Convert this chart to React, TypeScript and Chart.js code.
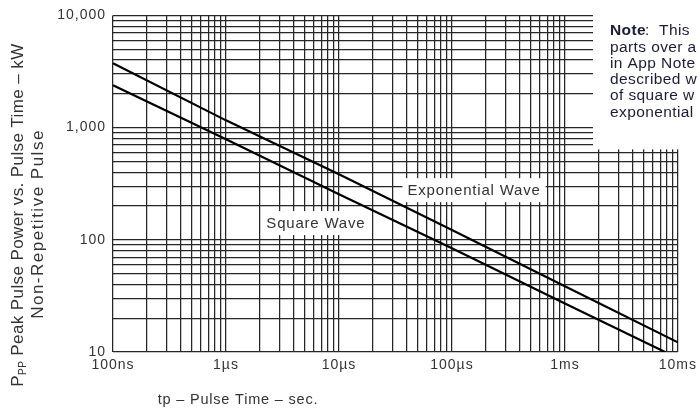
import React, { useEffect, useRef } from 'react';
import { Chart, registerables } from 'chart.js';
Chart.register(...registerables);

// ---- data ----
const pulseTimes = [1e-7, 1e-6, 1e-5, 1e-4, 1e-3, 1e-2];
const exponentialWave = [3740, 1160, 384, 122, 38.6, 12.2];
const squareWaveTimes = [1e-7, 1e-6, 1e-5, 1e-4, 1e-3, 7.7e-3];
const squareWave = [2385, 787, 255, 84, 27, 10];

const xDecades = [1e-7, 1e-6, 1e-5, 1e-4, 1e-3, 1e-2];
const xTickLabels = ['100ns', '1µs', '10µs', '100µs', '1ms', '10ms'];
const yDecades = [10, 100, 1000, 10000];
const yTickLabels = ['10', '100', '1,000', '10,000'];

const noteLines = ['parts over a', 'in App Note', 'described w', 'of square w', 'exponential'];

const FONT = '"Liberation Sans", Arial, sans-serif';
const TEXT = '#333333';

function gridValues(decades: number[]) {
  const out: number[] = [];
  for (let i = 0; i < decades.length; i++) {
    const d = decades[i];
    if (i === decades.length - 1) { out.push(d); break; }
    for (let m = 1; m <= 9; m++) out.push(Number((d * m).toPrecision(3)));
  }
  return out;
}

function labelFor(value: number, decades: number[], labels: string[]) {
  for (let i = 0; i < decades.length; i++) {
    if (Math.abs(value / decades[i] - 1) < 1e-6) return labels[i];
  }
  return '';
}

function spacedWidth(ctx: CanvasRenderingContext2D, text: string, spacing: number) {
  return ctx.measureText(text).width + text.length * spacing;
}

const overlayPlugin = {
  id: 'overlay',
  beforeDraw(chart: any) {
    chart.ctx.letterSpacing = '1px';
  },
  beforeDatasetsDraw(chart: any) {
    const ctx = chart.ctx;
    const xs = chart.scales.x;
    const ys = chart.scales.y;
    ctx.save();
    const sp = 0.8;
    ctx.letterSpacing = '0px';
    ctx.font = `15px ${FONT}`;
    ctx.textBaseline = 'middle';
    const boxes = [
      { text: 'Exponential Wave', x: xs.getPixelForValue(1.57e-4), y: ys.getPixelForValue(277) },
      { text: 'Square Wave', x: xs.getPixelForValue(6.25e-6), y: ys.getPixelForValue(141) },
    ];
    for (const b of boxes) {
      const w = spacedWidth(ctx, b.text, sp);
      ctx.fillStyle = '#ffffff';
      ctx.fillRect(b.x - w / 2 - 5, b.y - 12, w + 10, 24);
      ctx.fillStyle = TEXT;
      ctx.textAlign = 'left';
      ctx.letterSpacing = `${sp}px`;
      ctx.fillText(b.text, b.x - w / 2, b.y + 1);
      ctx.letterSpacing = '0px';
    }
    ctx.restore();
  },
  afterDraw(chart: any) {
    const ctx = chart.ctx;
    const ys = chart.scales.y;
    ctx.save();
    ctx.letterSpacing = '0px';
    // note box
    const boxBottom = ys.getPixelForValue(640);
    ctx.fillStyle = '#ffffff';
    ctx.fillRect(593, 0, 107, boxBottom);
    ctx.fillStyle = '#1c1c38';
    ctx.textBaseline = 'middle';
    ctx.textAlign = 'left';
    ctx.font = `bold 15.5px ${FONT}`;
    const nw = ctx.measureText('Note').width;
    ctx.letterSpacing = '0.4px';
    ctx.fillText('Note', 610, 31);
    ctx.font = `15.5px ${FONT}`;
    ctx.fillText(':  This', 610 + nw + 0.5, 31);
    noteLines.forEach((l, i) => ctx.fillText(l, 610, 47.5 + i * 16.2));

    // x title
    ctx.fillStyle = TEXT;
    ctx.letterSpacing = '0.8px';
    ctx.font = `14.5px ${FONT}`;
    ctx.textAlign = 'center';
    ctx.fillText('tp – Pulse Time – sec.', 238, 400);

    // y title (rotated)
    ctx.translate(18, 215);
    ctx.rotate(-Math.PI / 2);
    const sp = 0.4;
    ctx.letterSpacing = '0px';
    ctx.font = `17px ${FONT}`;
    const main = ' Peak Pulse Power vs. Pulse Time – kW';
    const pW = spacedWidth(ctx, 'P', sp);
    ctx.font = `10px ${FONT}`;
    const subW = spacedWidth(ctx, 'PP', sp);
    ctx.font = `17px ${FONT}`;
    const mW = spacedWidth(ctx, main, sp);
    const total = pW + subW + mW;
    const x0 = -total / 2;
    ctx.letterSpacing = `${sp}px`;
    ctx.textAlign = 'left';
    ctx.textBaseline = 'middle';
    ctx.fillText('P', x0, 0);
    ctx.font = `10px ${FONT}`;
    ctx.fillText('PP', x0 + pW, 5);
    ctx.font = `17px ${FONT}`;
    ctx.fillText(main, x0 + pW + subW, 0);
    ctx.restore();

    ctx.save();
    ctx.translate(38, 224);
    ctx.rotate(-Math.PI / 2);
    ctx.fillStyle = TEXT;
    const sp2 = 1.5;
    ctx.letterSpacing = '0px';
    ctx.font = `17px ${FONT}`;
    const w2 = spacedWidth(ctx, 'Non-Repetitive Pulse', sp2);
    ctx.letterSpacing = `${sp2}px`;
    ctx.textAlign = 'left';
    ctx.textBaseline = 'middle';
    ctx.fillText('Non-Repetitive Pulse', -w2 / 2, 0);
    ctx.restore();
    chart.ctx.letterSpacing = '0px';
  },
};

export default function App() {
  const ref = useRef<HTMLCanvasElement | null>(null);
  useEffect(() => {
    document.body.style.margin = '0';
    if (!ref.current) return;
    const xGrid = gridValues(xDecades);
    const yGrid = gridValues(yDecades);
    const chart = new Chart(ref.current, {
      type: 'line',
      data: {
        datasets: [
          {
            label: 'Exponential Wave',
            data: pulseTimes.map((t, i) => ({ x: t, y: exponentialWave[i] })),
            borderColor: '#000000',
            borderWidth: 2.2,
            pointRadius: 0,
            tension: 0,
          },
          {
            label: 'Square Wave',
            data: squareWaveTimes.map((t, i) => ({ x: t, y: squareWave[i] })),
            borderColor: '#000000',
            borderWidth: 2.2,
            pointRadius: 0,
            tension: 0,
          },
        ],
      },
      options: {
        animation: false,
        responsive: false,
        devicePixelRatio: 1,
        layout: { padding: { top: 15, right: 22, left: 0, bottom: 0 } },
        plugins: { legend: { display: false }, tooltip: { enabled: false }, title: { display: false } },
        scales: {
          x: {
            type: 'logarithmic',
            min: 1e-7,
            max: 1e-2,
            afterBuildTicks: (s: any) => { s.ticks = xGrid.map((v) => ({ value: v })); },
            afterFit: (s: any) => { s.height = 61; },
            grid: { color: '#262626', lineWidth: 1.25, drawTicks: false, tickLength: 0 },
            border: { display: false },
            ticks: {
              autoSkip: false,
              maxRotation: 0,
              padding: 5,
              color: TEXT,
              font: { family: FONT, size: 14 },
              callback: (v: any) => labelFor(Number(v), xDecades, xTickLabels),
            },
          },
          y: {
            type: 'logarithmic',
            min: 10,
            max: 10000,
            afterBuildTicks: (s: any) => { s.ticks = yGrid.map((v) => ({ value: v })); },
            afterFit: (s: any) => { s.width = 113; },
            grid: { color: '#262626', lineWidth: 1.25, drawTicks: false, tickLength: 0 },
            border: { display: false },
            ticks: {
              autoSkip: false,
              padding: 7,
              color: TEXT,
              font: { family: FONT, size: 14 },
              callback: (v: any) => labelFor(Number(v), yDecades, yTickLabels),
            },
          },
        },
      },
      plugins: [overlayPlugin],
    } as any);
    return () => chart.destroy();
  }, []);
  return <canvas ref={ref} width={700} height={413} style={{ display: 'block' }} />;
}
